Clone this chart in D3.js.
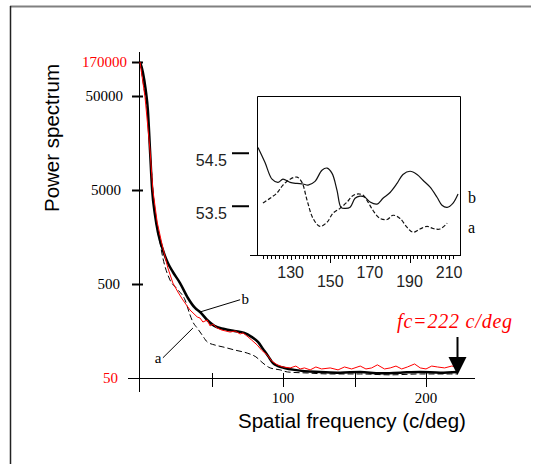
<!DOCTYPE html>
<meta charset="utf-8">
<script src="https://d3js.org/d3.v7.min.js"></script>
<style>
  body { margin: 0; background: #fff; }
  svg { display: block; }
</style>
<body>
<div id="chart"></div>
<script>
  // main spectrum: frequency (c/deg) and power
  var freqB = [0, 2, 4, 5.5, 7, 8.5, 10.5, 12.5, 16, 19.5, 23, 28, 33.5, 38.5, 42, 47, 52, 59, 66, 73, 78, 82.5, 86, 89.5, 93, 96.5, 101, 108, 115, 126, 140, 154, 168, 182, 196, 210, 222];
  var powB = [170000, 118000, 62000, 35500, 13300, 5000, 2700, 1790, 1150, 836, 671, 512, 355, 278, 252, 207, 179, 166, 158, 151, 137, 121, 102, 86, 72, 67, 64, 61, 59, 58, 57, 58, 56, 57, 58, 57, 58];

  var freqRed = [0, 3.5, 7, 9, 12, 15.5, 19.5, 23, 26.5, 30, 35, 40, 42, 44, 47, 49, 51, 54, 57, 60, 63, 66.5, 70, 72, 75.5, 78, 82, 85, 89, 92, 96, 100, 105, 109, 112, 115, 119, 123, 127, 133, 138.5, 143, 148, 154, 158, 162, 166, 171, 175, 179, 183, 187, 192, 196, 200, 204, 208, 213, 218, 222];
  var powRed = [170000, 48700, 13300, 5000, 2280, 1300, 740, 512, 411, 338, 264, 223, 217, 197, 207, 179, 187, 170, 162, 158, 154, 158, 147, 151, 137, 127, 112, 99, 88, 76, 69, 65.5, 64, 67, 62.4, 64, 61, 65.5, 62.4, 64, 61, 65.5, 62.4, 67, 62.4, 64, 69, 62.4, 64, 67, 62.4, 65.5, 70.5, 64, 62.4, 67, 65.5, 64, 67, 65.5];

  var freqA = [0, 3, 5, 7, 9, 11, 14, 16, 21, 26, 31.5, 35, 37, 40, 43.5, 47, 52.5, 58, 66.5, 75, 81, 86, 91, 98, 103, 117, 133, 154, 175, 196, 217, 222];
  var powA = [170000, 62000, 35500, 13300, 5000, 2400, 1365, 946, 551, 442, 338, 234, 197, 170, 143, 121, 112, 107, 99, 92, 84, 72, 64, 61, 58, 56.5, 55.2, 55.2, 54, 55.2, 55.2, 55.2];

  var yTicks = [170000, 50000, 5000, 500, 50];
  var xTicks = [100, 200];
  var xMinorTicks = [50, 150];

  // inset: high-frequency detail
  var insetFreqB = [113.5, 117, 120.6, 123.6, 126.1, 129.7, 133.2, 136.2, 138.8, 142.3, 145.8, 148.4, 150.9, 153.4, 155.4, 157.4, 160, 162.5, 165, 167.5, 170.1, 173.6, 176.6, 180.2, 183.7, 186.7, 190.3, 193.8, 196.8, 200.4, 203.9, 206.4, 209, 212, 214.5];
  var insetValB = [54.61, 54.33, 54.01, 53.95, 54.01, 53.95, 53.93, 53.92, 53.9, 53.97, 54.18, 54.22, 54.12, 53.8, 53.48, 53.46, 53.48, 53.65, 53.69, 53.67, 53.58, 53.54, 53.65, 53.76, 53.93, 54.1, 54.16, 54.1, 53.99, 53.86, 53.67, 53.52, 53.48, 53.56, 53.73];
  var insetFreqA = [116, 119.6, 123.1, 126.1, 129.7, 133.2, 135.7, 138.3, 141.3, 144.8, 148.4, 151.4, 154.9, 158.5, 161, 163.5, 166.5, 169, 171.6, 175.1, 178.7, 181.7, 185.2, 188.8, 191.8, 195.3, 198.9, 201.9, 205.4, 209];
  var insetValA = [53.56, 53.65, 53.75, 53.9, 54.01, 54.05, 53.95, 53.61, 53.27, 53.12, 53.2, 53.37, 53.46, 53.58, 53.69, 53.73, 53.71, 53.58, 53.42, 53.27, 53.25, 53.33, 53.27, 53.1, 53.01, 53.07, 53.12, 53.08, 53.07, 53.18];
  var insetXTicks = [130, 150, 170, 190, 210];
  var insetYTicks = [54.5, 53.5];

  var cutoff = 222;

  var serif = "'Liberation Serif', 'Times New Roman', serif";
  var sans = "'Liberation Sans', Arial, sans-serif";

  var svg = d3.select("#chart").append("svg")
    .attr("width", 534)
    .attr("height", 464);

  // frame lines
  svg.append("line").attr("x1", 10).attr("x2", 531).attr("y1", 6.5).attr("y2", 6.5)
    .attr("stroke", "#808080").attr("stroke-width", 2);
  svg.append("line").attr("x1", 10.5).attr("x2", 10.5).attr("y1", 6).attr("y2", 464)
    .attr("stroke", "#222").attr("stroke-width", 1.5);

  // scales
  var x = d3.scaleLinear().domain([0, 100]).range([140, 283]);
  var y = d3.scaleLog().domain([50, 50000, 170000]).range([378, 96, 62]);

  // axes lines
  svg.append("line").attr("x1", 128).attr("x2", 475).attr("y1", 378.5).attr("y2", 378.5)
    .attr("stroke", "#000").attr("stroke-width", 1);
  svg.append("line").attr("x1", 139.5).attr("x2", 139.5).attr("y1", 52).attr("y2", 392)
    .attr("stroke", "#000").attr("stroke-width", 1);

  // y ticks
  svg.selectAll(".ytick").data(yTicks.slice(0, 4)).enter().append("line")
    .attr("x1", 132).attr("x2", 143)
    .attr("y1", function (d) { return Math.round(y(d)) + 0.5; })
    .attr("y2", function (d) { return Math.round(y(d)) + 0.5; })
    .attr("stroke", "#000").attr("stroke-width", 2);
  svg.selectAll(".ylab").data(yTicks).enter().append("text")
    .attr("x", function (d, i) { return [127, 123, 121, 120, 118][i]; })
    .attr("y", function (d) { return y(d) + 5; })
    .attr("text-anchor", "end")
    .style("font-family", serif).style("font-size", "15px")
    .attr("fill", function (d) { return (d == 170000 || d == 50) ? "#ff0000" : "#000"; })
    .text(function (d) { return d; });

  // x ticks
  svg.selectAll(".xtick").data(xTicks.concat(xMinorTicks)).enter().append("line")
    .attr("x1", function (d) { return Math.round(x(d)) + 0.5; })
    .attr("x2", function (d) { return Math.round(x(d)) + 0.5; })
    .attr("y1", 373).attr("y2", 387)
    .attr("stroke", "#000").attr("stroke-width", 1);
  svg.selectAll(".xlab").data(xTicks).enter().append("text")
    .attr("x", function (d) { return x(d); })
    .attr("y", 403)
    .attr("text-anchor", "middle")
    .style("font-family", serif).style("font-size", "15px")
    .text(function (d) { return d; });

  function zip(a, b) { return a.map(function (v, i) { return [v, b[i]]; }); }

  var line = d3.line()
    .x(function (d) { return x(d[0]); })
    .y(function (d) { return y(d[1]); })
    .curve(d3.curveMonotoneX);

  svg.append("path").datum(zip(freqA, powA))
    .attr("d", line).attr("fill", "none")
    .attr("stroke", "#000").attr("stroke-width", 1)
    .attr("stroke-dasharray", "6,3");
  svg.append("path").datum(zip(freqB, powB))
    .attr("d", line).attr("fill", "none")
    .attr("stroke", "#000").attr("stroke-width", 2.5);
  svg.append("path").datum(zip(freqRed, powRed))
    .attr("d", d3.line().x(function (d) { return x(d[0]); }).y(function (d) { return y(d[1]); }))
    .attr("fill", "none")
    .attr("stroke", "#ff0000").attr("stroke-width", 1);

  // curve labels with leaders
  svg.append("line").attr("x1", x(42)).attr("y1", y(252)).attr("x2", x(70)).attr("y2", y(340))
    .attr("stroke", "#000").attr("stroke-width", 1);
  svg.append("text").attr("x", x(71)).attr("y", y(340) + 4)
    .style("font-family", serif).style("font-size", "15px").text("b");
  svg.append("line").attr("x1", x(37)).attr("y1", y(170)).attr("x2", x(16)).attr("y2", y(82))
    .attr("stroke", "#000").attr("stroke-width", 1);
  svg.append("text").attr("x", x(15)).attr("y", y(82) + 5)
    .attr("text-anchor", "end")
    .style("font-family", serif).style("font-size", "15px").text("a");

  // cutoff arrow
  var ax = Math.round(x(cutoff)) + 0.5;
  svg.append("line").attr("x1", ax).attr("x2", ax).attr("y1", 337).attr("y2", 362)
    .attr("stroke", "#000").attr("stroke-width", 2);
  svg.append("path")
    .attr("d", "M" + (ax - 9) + ",357 L" + (ax + 9) + ",357 L" + ax + ",375 Z")
    .attr("fill", "#000");
  svg.append("text").attr("x", 455).attr("y", 328)
    .attr("text-anchor", "middle")
    .style("font-family", serif).style("font-size", "20px").style("font-style", "italic")
    .style("letter-spacing", "0.8px")
    .attr("fill", "#ff0000")
    .text("fc=222 c/deg");

  // axis titles
  svg.append("text").attr("x", 352).attr("y", 428)
    .attr("text-anchor", "middle")
    .style("font-family", sans).style("font-size", "20.5px")
    .text("Spatial frequency  (c/deg)");
  svg.append("text")
    .attr("transform", "translate(59,138)rotate(-90)")
    .attr("text-anchor", "middle")
    .style("font-family", sans).style("font-size", "20.5px")
    .text("Power spectrum");

  // ---------- inset ----------
  var ix = d3.scaleLinear().domain([113, 216]).range([257, 461]);
  var iy = d3.scaleLinear().domain([52.58, 55.58]).range([255, 96]);

  var inset = svg.append("g");
  inset.append("path")
    .attr("d", "M257.5,255 V96.5 H460.5 V255")
    .attr("fill", "none").attr("stroke", "#000").attr("stroke-width", 1);
  inset.append("line").attr("x1", 250).attr("x2", 461).attr("y1", 255.5).attr("y2", 255.5)
    .attr("stroke", "#000").attr("stroke-width", 1);

  var minor = d3.range(116, 214, 2);
  inset.selectAll(".mt").data(minor).enter().append("line")
    .attr("x1", function (d) { return Math.round(ix(d)) + 0.5; })
    .attr("x2", function (d) { return Math.round(ix(d)) + 0.5; })
    .attr("y1", 255).attr("y2", 259)
    .attr("stroke", "#000").attr("stroke-width", 1);
  inset.selectAll(".it").data(insetXTicks).enter().append("line")
    .attr("x1", function (d) { return Math.round(ix(d)) + 0.5; })
    .attr("x2", function (d) { return Math.round(ix(d)) + 0.5; })
    .attr("y1", 255)
    .attr("y2", function (d, i) { return i % 2 ? 263 : 260; })
    .attr("stroke", "#000").attr("stroke-width", 1);
  inset.selectAll(".il").data(insetXTicks).enter().append("text")
    .attr("x", function (d) { return ix(d); })
    .attr("y", function (d, i) { return i % 2 ? 287 : 278; })
    .attr("text-anchor", "middle")
    .style("font-family", sans).style("font-size", "16px")
    .attr("fill", "#222")
    .text(function (d) { return d; });

  inset.selectAll(".iyt").data(insetYTicks).enter().append("line")
    .attr("x1", 232).attr("x2", 249)
    .attr("y1", function (d) { return iy(d); })
    .attr("y2", function (d) { return iy(d); })
    .attr("stroke", "#000").attr("stroke-width", 2);
  inset.selectAll(".iyl").data(insetYTicks).enter().append("text")
    .attr("x", 227)
    .attr("y", function (d) { return iy(d) + 13; })
    .attr("text-anchor", "end")
    .style("font-family", sans).style("font-size", "16px")
    .attr("fill", "#222")
    .text(function (d) { return d; });

  var iline = d3.line()
    .x(function (d) { return ix(d[0]); })
    .y(function (d) { return iy(d[1]); })
    .curve(d3.curveCatmullRom);

  inset.append("path").datum(zip(insetFreqB, insetValB))
    .attr("d", iline).attr("fill", "none")
    .attr("stroke", "#111").attr("stroke-width", 1.2);
  inset.append("path").datum(zip(insetFreqA, insetValA))
    .attr("d", iline).attr("fill", "none")
    .attr("stroke", "#111").attr("stroke-width", 1.2)
    .attr("stroke-dasharray", "4,2");

  inset.append("text").attr("x", 468).attr("y", 203)
    .style("font-family", serif).style("font-size", "16px").text("b");
  inset.append("text").attr("x", 468).attr("y", 233)
    .style("font-family", serif).style("font-size", "16px").text("a");
</script>
</body>
